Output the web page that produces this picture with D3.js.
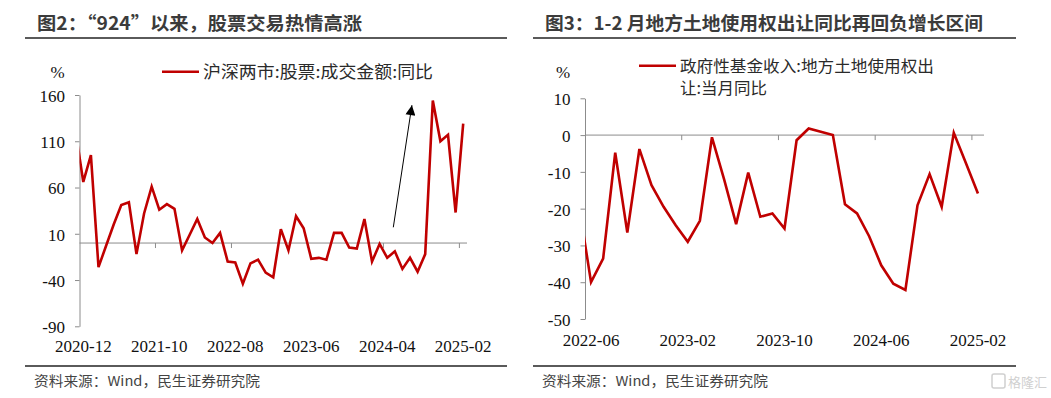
<!doctype html>
<html lang='zh-CN'>
<head>
<meta charset='UTF-8'>
<title>图2 / 图3</title>
<script src='https://cdn.jsdelivr.net/npm/d3@7/dist/d3.min.js'></script>
<style>
  html, body { margin: 0; padding: 0; background: #fff; }
  svg { display: block; }
</style>
</head>
<body>
<div id='chart'></div>
<script>
// ---- data ----
function monthRange(a, b) {
    let fmt = d3.timeFormat('%Y-%m'), p = d3.timeParse('%Y-%m');
    return d3.timeMonth.range(p(a), d3.timeMonth.offset(p(b), 1)).map(fmt);
}
const stockMonths = monthRange('2020-12', '2025-02');
// 沪深两市:股票:成交金额:同比 (%)
const stockYoY = [66, 95, -26, -3, 20, 41, 44, -12, 32, 61,
    36, 42, 37, -8, 9, 26, 6, 0, 11, -20,
    -21, -44, -22, -18, -32, -37, 15, -8, 29, 16,
    -17, -16, -18, 11, 11, -5, -6, 26, -20, -1,
    -16, -9, -28, -16, -31, -12, 154, 110, 117, 33,
    129];
const stockPrev = 120;   // 2020-11, partly visible at left edge
const stockTicks = ['2020-12', '2021-10', '2022-08', '2023-06', '2024-04', '2025-02'];
const stockYTicks = [160, 110, 60, 10, -40, -90];

const landMonths = monthRange('2022-06', '2025-02');
// 政府性基金收入:地方土地使用权出让:当月同比 (%)
const landYoY = [-40, -33.6, -4.8, -26.5, -3.8, -13.6, -19.5, -24.5, -29, -23.3,
    -0.6, -12, -24.2, -10.2, -22.2, -21.3, -25.4, -1.4, 1.8, 0.9,
    0, -18.8, -21.3, -27.5, -35.4, -40.4, -42.1, -19.1, -10.6, -19.5,
    0.6, -7.6, -15.9];
const landPrev = -19;    // 2022-05, partly visible at left edge
const landTicks = ['2022-06', '2023-02', '2023-10', '2024-06', '2025-02'];
const landYTicks = [10, 0, -10, -20, -30, -40, -50];

// arrow annotation on 图2: [category index, value]
const arrowFrom = [40.8, 17];
const arrowTo = [43.25, 149];

const RED = '#C00000';
const AXIS = '#8c8c8c';
const NUM_FONT = "'Liberation Serif', 'Times New Roman', serif";
const CJK_FONT = "'Noto Sans CJK SC', 'Noto Sans', sans-serif";

let svg = d3.select('#chart').append('svg').attr('width', 1051).attr('height', 398);
let defs = svg.append('defs');
defs.append('marker').attr('id', 'arrowhead')
    .attr('viewBox', '0 0 10 10').attr('refX', 10).attr('refY', 5)
    .attr('markerWidth', 12).attr('markerHeight', 10).attr('markerUnits', 'userSpaceOnUse')
    .attr('orient', 'auto')
    .append('path').attr('d', 'M0,0 L10,5 L0,10 Z').attr('fill', '#000');

function drawPanel(cfg) {
    let g = svg.append('g');

    // title + rules
    g.append('text').attr('x', cfg.titleX).attr('y', 30)
        .attr('font-family', CJK_FONT).attr('font-weight', 'bold').attr('font-size', 18.5)
        .attr('fill', '#3b3b3b').attr('textLength', cfg.titleLen).attr('lengthAdjust', 'spacingAndGlyphs')
        .text(cfg.title);
    g.append('line').attr('x1', cfg.ruleX[0]).attr('x2', cfg.ruleX[1]).attr('y1', 38).attr('y2', 38)
        .attr('stroke', '#5a5a5a').attr('stroke-width', 2);
    g.append('line').attr('x1', cfg.ruleX[0]).attr('x2', cfg.ruleX[1]).attr('y1', 366).attr('y2', 366)
        .attr('stroke', '#5a5a5a').attr('stroke-width', 2);
    g.append('text').attr('x', cfg.ruleX[0] + 9).attr('y', 386)
        .attr('font-family', CJK_FONT).attr('font-size', 13.5).attr('fill', '#444')
        .attr('textLength', 226).attr('lengthAdjust', 'spacingAndGlyphs')
        .text('资料来源：Wind，民生证券研究院');

    let x = d3.scaleBand().domain(cfg.months).range([cfg.x0, cfg.x1]).padding(0);
    let bw = x.bandwidth();
    let y = d3.scaleLinear().domain(cfg.yDomain).range([cfg.yBot, cfg.yTop]);

    // y axis (plain hyphen for negatives, as in the source)
    let yAxis = g.append('g').attr('transform', 'translate(' + cfg.x0 + ',0)')
        .call(d3.axisLeft(y).tickValues(cfg.yTicks).tickFormat(d => String(d))
            .tickSize(4.5).tickSizeOuter(0).tickPadding(10));
    yAxis.select('.domain').attr('stroke', AXIS);
    yAxis.selectAll('.tick line').attr('stroke', AXIS);
    yAxis.selectAll('.tick text').attr('font-family', NUM_FONT).attr('font-size', 17)
        .attr('fill', '#111').attr('dy', '0.38em');

    // zero line + ticks at category boundaries
    g.append('line').attr('x1', cfg.x0).attr('x2', cfg.x1).attr('y1', y(0)).attr('y2', y(0))
        .attr('stroke', AXIS).attr('stroke-width', 1);
    g.selectAll('.xtick').data(cfg.xTicks.slice(1)).enter().append('line')
        .attr('x1', d => x(d)).attr('x2', d => x(d))
        .attr('y1', y(0)).attr('y2', y(0) + 5).attr('stroke', AXIS);

    // x labels via band axis (centred on category)
    let xAxis = g.append('g').attr('transform', 'translate(0,' + cfg.labelY + ')')
        .call(d3.axisBottom(x).tickValues(cfg.xTicks).tickSize(0).tickPadding(0));
    xAxis.select('.domain').remove();
    xAxis.selectAll('.tick text').attr('font-family', NUM_FONT).attr('font-size', 17)
        .attr('fill', '#111').attr('dy', 0);

    // unit
    g.append('text').attr('x', cfg.x0 - 22).attr('y', 77.5).attr('text-anchor', 'middle')
        .attr('font-family', NUM_FONT).attr('font-size', 17).attr('fill', '#111').text('%');

    // line, clipped to plot area
    let clipId = 'clip' + cfg.id;
    defs.append('clipPath').attr('id', clipId).append('rect')
        .attr('x', cfg.x0).attr('y', 0).attr('width', cfg.x1 - cfg.x0).attr('height', 398);
    let pts = [{ x: x(cfg.months[0]) + bw / 2 - x.step(), v: cfg.prev }]
        .concat(cfg.values.map((v, i) => ({ x: x(cfg.months[i]) + bw / 2, v: v })));
    let line = d3.line().x(d => d.x).y(d => y(d.v));
    g.append('path').attr('d', line(pts)).attr('clip-path', 'url(#' + clipId + ')')
        .attr('fill', 'none').attr('stroke', RED).attr('stroke-width', 2.6)
        .attr('stroke-linejoin', 'miter');

    // legend
    g.append('line').attr('x1', cfg.legX).attr('x2', cfg.legX + 37)
        .attr('y1', cfg.legY).attr('y2', cfg.legY).attr('stroke', RED).attr('stroke-width', 2.6);
    cfg.legend.forEach(function (t, k) {
        g.append('text').attr('x', cfg.legX + 41).attr('y', cfg.legY + 6 + k * 22.6)
            .attr('font-family', CJK_FONT).attr('font-size', cfg.legSize).attr('fill', '#2a2a2a')
            .attr('textLength', cfg.legLen[k]).attr('lengthAdjust', 'spacingAndGlyphs')
            .text(t);
    });

    return { g: g, x: x, y: y };
}

let p1 = drawPanel({
    id: 1, title: '图2：“924”以来，股票交易热情高涨', titleX: 37, titleLen: 325, ruleX: [25, 507],
    months: stockMonths, values: stockYoY, prev: stockPrev, xTicks: stockTicks, yTicks: stockYTicks,
    x0: 79.5, x1: 467, yTop: 95, yBot: 326.3, yDomain: [-90, 160], labelY: 352,
    legX: 162, legY: 71.7, legSize: 16.5, legLen: [230], legend: ['沪深两市:股票:成交金额:同比']
});
// arrow
p1.g.append('line')
    .attr('x1', p1.x.range()[0] + p1.x.step() * (arrowFrom[0] + 0.5)).attr('y1', p1.y(arrowFrom[1]))
    .attr('x2', p1.x.range()[0] + p1.x.step() * (arrowTo[0] + 0.5)).attr('y2', p1.y(arrowTo[1]))
    .attr('stroke', '#000').attr('stroke-width', 1).attr('marker-end', 'url(#arrowhead)');

drawPanel({
    id: 2, title: '图3：1-2 月地方土地使用权出让同比再回负增长区间', titleX: 545, titleLen: 438, ruleX: [533, 1016],
    months: landMonths, values: landYoY, prev: landPrev, xTicks: landTicks, yTicks: landYTicks,
    x0: 585, x1: 984, yTop: 98.3, yBot: 319, yDomain: [-50, 10], labelY: 345.5,
    legX: 639, legY: 65.7, legSize: 16, legLen: [254, 87],
    legend: ['政府性基金收入:地方土地使用权出', '让:当月同比']
});

// watermark
let wm = svg.append('g').attr('opacity', 0.55);
wm.append('rect').attr('x', 992).attr('y', 374).attr('width', 13).attr('height', 14).attr('rx', 2)
    .attr('fill', 'none').attr('stroke', '#aaa').attr('stroke-width', 1.5);
wm.append('text').attr('x', 1008).attr('y', 387).attr('font-family', CJK_FONT)
    .attr('font-size', 13).attr('fill', '#aaa').text('格隆汇');
</script>
</body>
</html>
